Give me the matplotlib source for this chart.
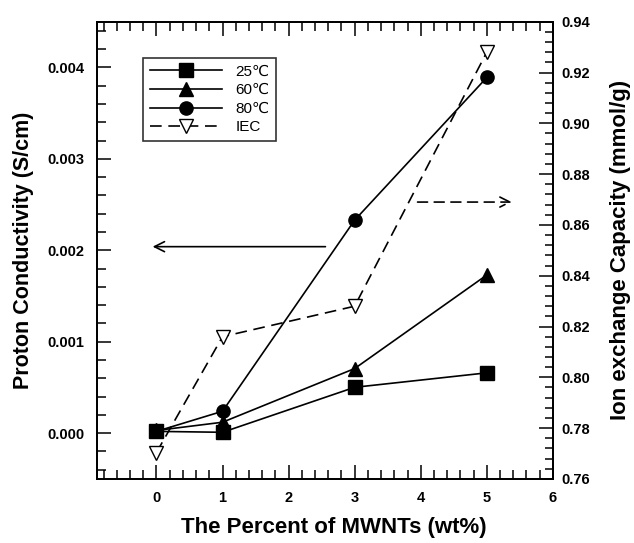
import matplotlib
matplotlib.use('Agg')
import matplotlib.pyplot as plt
from matplotlib.ticker import MultipleLocator

plt.rcParams['font.family'] = ['Liberation Sans', 'DejaVu Sans']

# data
mwnt = [0, 1, 3, 5]
cond_25 = [0.00002, 0.00001, 0.000502, 0.00066]
cond_60 = [0.00003, 0.00012, 0.000707, 0.00173]
cond_80 = [0.00002, 0.00024, 0.00233, 0.00389]
iec = [0.7704, 0.816, 0.828, 0.928]
legend_labels = ['25\u2103', '60\u2103', '80\u2103', 'IEC']

fig = plt.figure(figsize=(6.34, 5.43), dpi=100)
ax = fig.add_axes([0.153, 0.118, 0.719, 0.842])
ax2 = ax.twinx()

ms = 9.5
lw = 1.2
l25, = ax.plot(mwnt, cond_25, '-', color='black', lw=lw, marker='s', ms=ms, zorder=3)
l60, = ax.plot(mwnt, cond_60, '-', color='black', lw=lw, marker='^', ms=ms, zorder=3)
l80, = ax.plot(mwnt, cond_80, '-', color='black', lw=lw, marker='o', ms=ms, zorder=3)
liec, = ax2.plot(mwnt, iec, '--', color='black', lw=lw, marker='v', ms=ms,
                 mfc='white', mec='black', mew=1.0, dashes=(7, 4), zorder=3)

ax.set_xlim(-0.9, 6)
ax.set_ylim(-0.0005, 0.0045)
ax2.set_ylim(0.76, 0.94)

ax.xaxis.set_major_locator(MultipleLocator(1))
ax.xaxis.set_minor_locator(MultipleLocator(0.2))
ax.yaxis.set_major_locator(MultipleLocator(0.001))
ax.yaxis.set_minor_locator(MultipleLocator(0.0002))
ax2.yaxis.set_major_locator(MultipleLocator(0.02))
ax2.yaxis.set_minor_locator(MultipleLocator(0.004))

ax.set_xticks([0, 1, 2, 3, 4, 5, 6])
ax.yaxis.set_major_formatter(plt.FormatStrFormatter('%.3f'))
ax2.yaxis.set_major_formatter(plt.FormatStrFormatter('%.2f'))

ax.tick_params(axis='x', which='both', direction='in', top=True, bottom=True)
ax.tick_params(axis='y', which='both', direction='in', left=True, right=False)
ax.tick_params(which='major', length=10, width=1.1)
ax.tick_params(which='minor', length=6.5, width=1.1)
ax.tick_params(axis='x', pad=9, labelsize=10.5)
ax.tick_params(axis='y', pad=9, labelsize=10.5)
ax2.tick_params(axis='y', which='both', direction='in', right=True)
ax2.tick_params(which='major', length=10, width=1.1, pad=6, labelsize=10.5)
ax2.tick_params(which='minor', length=6, width=1.1)
for a in (ax, ax2):
    for lab in a.get_xticklabels() + a.get_yticklabels():
        lab.set_fontweight('bold')
    for sp in a.spines.values():
        sp.set_linewidth(1.3)

ax.set_xlabel('The Percent of MWNTs (wt%)', fontsize=16, fontweight='bold')
ax.xaxis.set_label_coords(0.52, -0.084)
ax.set_ylabel('Proton Conductivity (S/cm)', fontsize=15.5, fontweight='bold')
ax.yaxis.set_label_coords(-0.138, 0.5)
ax2.set_ylabel('Ion exchange Capacity (mmol/g)', fontsize=16, fontweight='bold')
ax2.yaxis.set_label_coords(1.125, 0.5)

# arrows pointing to the axes
ax.annotate('', xy=(-0.1, 0.00204), xytext=(2.6, 0.00204),
            arrowprops=dict(arrowstyle='->', color='black', lw=1.2, mutation_scale=18))
ax2.annotate('', xy=(5.42, 0.869), xytext=(3.91, 0.869),
             arrowprops=dict(arrowstyle='->', color='black', lw=1.2, ls=(0, (6, 4)),
                             mutation_scale=18))

handles = [l25, l60, l80, liec]
leg = ax.legend(handles, legend_labels, loc='upper left', bbox_to_anchor=(0.101, 0.921),
                frameon=True, fancybox=False, edgecolor='black', fontsize=11,
                handlelength=4.7, handletextpad=0.9, borderpad=0.45, labelspacing=0.3,
                borderaxespad=0)
leg.get_frame().set_linewidth(1.2)

fig.savefig('out.png', dpi=100)
